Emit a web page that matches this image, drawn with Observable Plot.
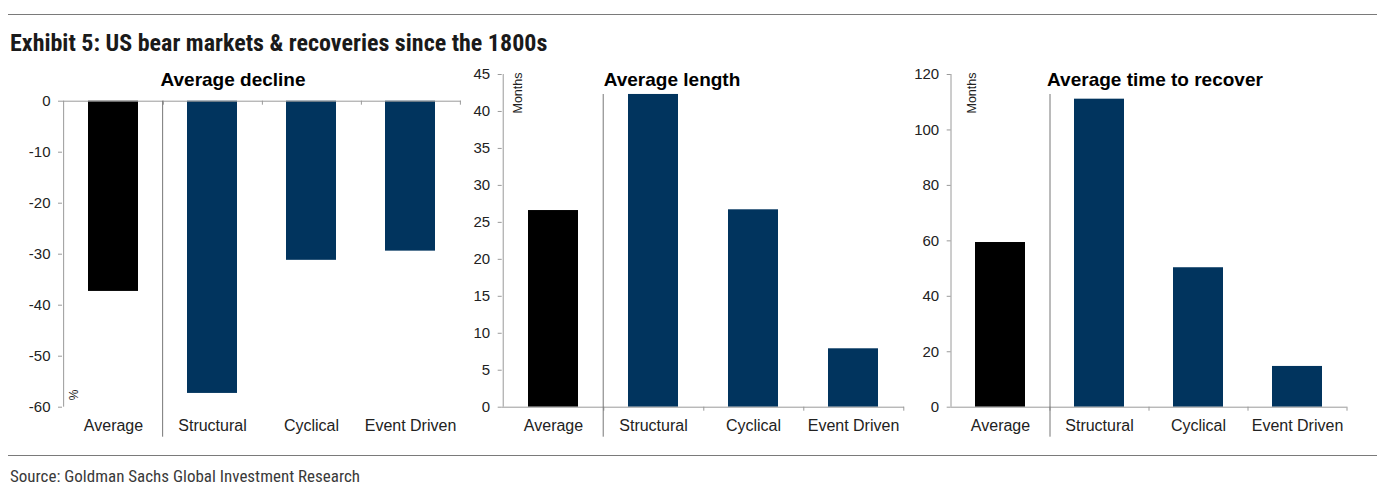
<!DOCTYPE html>
<html><head><meta charset="utf-8">
<script src="https://cdn.jsdelivr.net/npm/d3@7"></script>
<script src="https://cdn.jsdelivr.net/npm/@observablehq/plot@0.6"></script>
<style>
body{margin:0;background:#fff;}
#page{position:relative;width:1377px;height:496px;overflow:hidden;font-family:"Liberation Sans",Arial,sans-serif;background:#fff;}
.rule{position:absolute;left:8px;right:0;border-top:1.5px solid #7a7a7a;height:0}
.narrow{font-family:"Liberation Sans Narrow","Arial Narrow","Roboto Condensed","DejaVu Sans Condensed",sans-serif;font-stretch:condensed;}
#title{position:absolute;left:10px;top:29px;font-weight:bold;font-size:24px;color:#1a1a1a;white-space:nowrap}
.ptitle{position:absolute;top:69px;font-weight:bold;font-size:19px;color:#000;transform:translateX(-50%);white-space:nowrap;z-index:2}
.panel{position:absolute;top:60px}
#source{position:absolute;left:10px;top:466px;font-size:17px;color:#3a3a3a;white-space:nowrap}
</style></head>
<body>
<div id="page">
  <div class="rule" style="top:14px"></div>
  <div id="title" class="narrow">Exhibit 5: US bear markets &amp; recoveries since the 1800s</div>
  <div class="ptitle" style="left:233px">Average decline</div>
  <div class="ptitle" style="left:672px">Average length</div>
  <div class="ptitle" style="left:1155px">Average time to recover</div>
  <div id="p1" class="panel" style="left:0px;width:470px"></div>
  <div id="p2" class="panel" style="left:460px;width:460px"></div>
  <div id="p3" class="panel" style="left:900px;width:477px"></div>
  <div class="rule" style="top:455px"></div>
  <div id="source" class="narrow">Source: Goldman Sachs Global Investment Research</div>
</div>
<script>
const categories = ["Average", "Structural", "Cyclical", "Event Driven"];
const barColors = ["#000000", "#01345e", "#01345e", "#01345e"];
const declineValues = [-37.3, -57.3, -31.2, -29.4];
const lengthValues = [26.6, 42.3, 26.7, 7.9];
const recoverValues = [59.4, 111.1, 50.3, 14.7];
const declineTicks = [0, -10, -20, -30, -40, -50, -60];
const lengthTicks = [0, 5, 10, 15, 20, 25, 30, 35, 40, 45];
const recoverTicks = [0, 20, 40, 60, 80, 100, 120];

const axisGray = "#9a9a9a";

function panel({values, ticks, domain, width, marginLeft, marginRight, unit, unitDx, negative}) {
  const height = 390, marginTop = negative ? 40.7 : 14, marginBottom = 43.3;
  const step = (width - marginLeft - marginRight) / categories.length;
  const data = categories.map((c, i) => ({category: c, value: values[i], color: barColors[i]}));
  const marks = [
    Plot.barY(data, {x: "category", y: "value", fill: "color"}),
    Plot.ruleX([categories[0]], {dx: -step / 2, stroke: axisGray}),
    Plot.ruleY([0], {stroke: axisGray}),
    Plot.ruleX(categories, {dx: step / 2, y1: 0, y2: 0, insetBottom: -4, stroke: axisGray}),
    negative
      ? Plot.ruleX([categories[1]], {dx: -step / 2, y1: 0, y2: domain[0], insetBottom: -30, stroke: "#777"})
      : Plot.ruleX([categories[1]], {dx: -step / 2, insetTop: 20, insetBottom: -30, stroke: "#777"}),
    Plot.axisY({ticks, tickSize: 4, tickPadding: 8, stroke: axisGray, fill: "#222", label: null, fontSize: 15, tickFormat: d => String(d)}),
    Plot.axisX({tickSize: 0, tickPadding: 12, fill: "#222", label: null, fontSize: 16}),
    negative
      ? Plot.text([unit], {text: d => d, frameAnchor: "bottom-left", rotate: -90, textAnchor: "start", dx: 15, dy: -7, fontSize: 12, fill: "#222"})
      : Plot.text([unit], {text: d => d, frameAnchor: "top-left", rotate: -90, textAnchor: "end", dx: unitDx, dy: -2, fontSize: 12.5, fill: "#222"})
  ];
  return Plot.plot({
    width, height, marginLeft, marginRight, marginTop, marginBottom,
    x: {domain: categories, paddingInner: 0.5, paddingOuter: 0.25, axis: null},
    y: {domain, axis: null},
    color: {type: "identity"},
    style: {fontFamily: "'Liberation Sans', Arial, sans-serif", fontSize: "15px", background: "transparent", overflow: "visible", color: "#222"},
    marks
  });
}

document.getElementById("p1").append(panel({values: declineValues, ticks: declineTicks, domain: [-60, 0], width: 470, marginLeft: 62, marginRight: 9, unit: "%", negative: true}));
document.getElementById("p2").append(panel({values: lengthValues, ticks: lengthTicks, domain: [0, 45], width: 460, marginLeft: 41.7, marginRight: 16, unit: "Months", unitDx: 11}));
document.getElementById("p3").append(panel({values: recoverValues, ticks: recoverTicks, domain: [0, 120], width: 477, marginLeft: 50.7, marginRight: 30.3, unit: "Months", unitDx: 16}));
</script>
</body></html>
